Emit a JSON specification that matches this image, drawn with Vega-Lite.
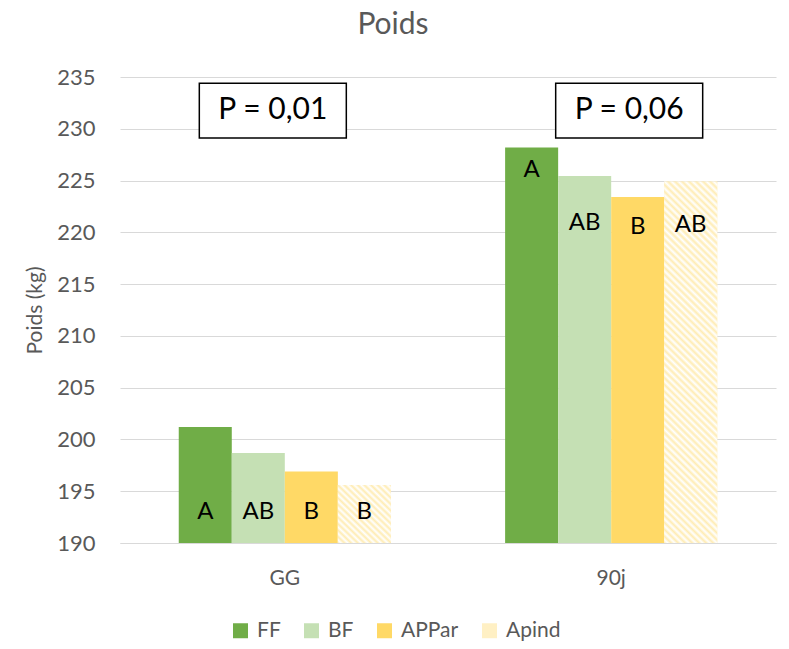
{
  "$schema": "https://vega.github.io/schema/vega-lite/v6.json",
  "width": 656,
  "height": 466,
  "autosize": {"type": "none"},
  "padding": {"left": 120, "top": 77, "right": 13, "bottom": 106},
  "background": "white",
  "title": {"text": "Poids", "font": "Lato", "fontSize": 30, "fontWeight": "normal", "color": "#595959", "anchor": "middle", "offset": 26, "dx": -55},
  "datasets": {
    "bars": [
      {"groupe": "GG", "serie": "FF", "poids": 201.2, "lettre": "A", "ylettre": 193.0},
      {"groupe": "GG", "serie": "BF", "poids": 198.7, "lettre": "AB", "ylettre": 193.0},
      {"groupe": "GG", "serie": "APPar", "poids": 196.9, "lettre": "B", "ylettre": 193.0},
      {"groupe": "GG", "serie": "Apind", "poids": 195.6, "lettre": "B", "ylettre": 193.0},
      {"groupe": "90j", "serie": "FF", "poids": 228.2, "lettre": "A", "ylettre": 226.0},
      {"groupe": "90j", "serie": "BF", "poids": 225.45, "lettre": "AB", "ylettre": 220.9},
      {"groupe": "90j", "serie": "APPar", "poids": 223.4, "lettre": "B", "ylettre": 220.5},
      {"groupe": "90j", "serie": "Apind", "poids": 224.9, "lettre": "AB", "ylettre": 220.7}
    ],
    "pvals": [
      {"groupe": "GG", "texte": "P = 0,01", "bas": 229.1, "haut": 234.4, "centre": 231.8},
      {"groupe": "90j", "texte": "P = 0,06", "bas": 229.1, "haut": 234.4, "centre": 231.8}
    ]
  },
  "layer": [
    {
      "data": {"name": "bars"},
      "mark": {"type": "bar"},
      "encoding": {
        "x": {"field": "groupe", "type": "nominal", "title": null, "sort": ["GG", "90j"], "scale": {"domain": ["GG", "90j"], "paddingInner": 0.35, "paddingOuter": 0.18}, "axis": {"labelAngle": 0}},
        "xOffset": {"field": "serie", "type": "nominal", "scale": {"domain": ["FF", "BF", "APPar", "Apind"], "paddingInner": 0, "paddingOuter": 0}},
        "y": {"field": "poids", "type": "quantitative", "title": "Poids (kg)", "scale": {"domain": [190, 235], "zero": false, "nice": false}, "axis": {"values": [190, 195, 200, 205, 210, 215, 220, 225, 230, 235], "titleFontSize": 21, "titleFontWeight": "normal", "titlePadding": 11}},
        "y2": {"datum": 190},
        "color": {"field": "serie", "type": "nominal", "title": null, "scale": {"domain": ["FF", "BF", "APPar", "Apind"], "range": ["#70AD47", "#C5E0B4", "#FFD966", "#FFF0C4"]}}
      }
    },
    {
      "data": {"name": "bars"},
      "transform": [{"filter": "datum.serie === 'Apind' && datum.groupe === 'GG'"}],
      "mark": {"type": "bar", "fill": {"gradient": "linear", "x1": 0, "y1": 1, "x2": 0.936, "y2": -0.057, "stops": [
        {"offset": 0, "color": "#ffecb3"}, {"offset": 0.0294, "color": "#ffffff"}, {"offset": 0.0588, "color": "#ffecb3"}, {"offset": 0.0882, "color": "#ffffff"},
        {"offset": 0.1176, "color": "#ffecb3"}, {"offset": 0.1471, "color": "#ffffff"}, {"offset": 0.1765, "color": "#ffecb3"}, {"offset": 0.2059, "color": "#ffffff"},
        {"offset": 0.2353, "color": "#ffecb3"}, {"offset": 0.2647, "color": "#ffffff"}, {"offset": 0.2941, "color": "#ffecb3"}, {"offset": 0.3235, "color": "#ffffff"},
        {"offset": 0.3529, "color": "#ffecb3"}, {"offset": 0.3824, "color": "#ffffff"}, {"offset": 0.4118, "color": "#ffecb3"}, {"offset": 0.4412, "color": "#ffffff"},
        {"offset": 0.4706, "color": "#ffecb3"}, {"offset": 0.5, "color": "#ffffff"}, {"offset": 0.5294, "color": "#ffecb3"}, {"offset": 0.5588, "color": "#ffffff"},
        {"offset": 0.5882, "color": "#ffecb3"}, {"offset": 0.6176, "color": "#ffffff"}, {"offset": 0.6471, "color": "#ffecb3"}, {"offset": 0.6765, "color": "#ffffff"},
        {"offset": 0.7059, "color": "#ffecb3"}, {"offset": 0.7353, "color": "#ffffff"}, {"offset": 0.7647, "color": "#ffecb3"}, {"offset": 0.7941, "color": "#ffffff"},
        {"offset": 0.8235, "color": "#ffecb3"}, {"offset": 0.8529, "color": "#ffffff"}, {"offset": 0.8824, "color": "#ffecb3"}, {"offset": 0.9118, "color": "#ffffff"},
        {"offset": 0.9412, "color": "#ffecb3"}, {"offset": 0.9706, "color": "#ffffff"}, {"offset": 1, "color": "#ffecb3"}
      ]}},
      "encoding": {
        "x": {"field": "groupe", "type": "nominal", "title": null},
        "xOffset": {"field": "serie", "type": "nominal"},
        "y": {"field": "poids", "type": "quantitative", "title": "Poids (kg)"},
        "y2": {"datum": 190}
      }
    },
    {
      "data": {"name": "bars"},
      "transform": [{"filter": "datum.serie === 'Apind' && datum.groupe === '90j'"}],
      "mark": {"type": "bar", "fill": {"gradient": "linear", "x1": 0, "y1": 1, "x2": 0.162, "y2": -0.121, "stops": [
        {"offset": 0, "color": "#ffecb3"}, {"offset": 0.0083, "color": "#ffffff"}, {"offset": 0.0167, "color": "#ffecb3"}, {"offset": 0.025, "color": "#ffffff"},
        {"offset": 0.0333, "color": "#ffecb3"}, {"offset": 0.0417, "color": "#ffffff"}, {"offset": 0.05, "color": "#ffecb3"}, {"offset": 0.0583, "color": "#ffffff"},
        {"offset": 0.0667, "color": "#ffecb3"}, {"offset": 0.075, "color": "#ffffff"}, {"offset": 0.0833, "color": "#ffecb3"}, {"offset": 0.0917, "color": "#ffffff"},
        {"offset": 0.1, "color": "#ffecb3"}, {"offset": 0.1083, "color": "#ffffff"}, {"offset": 0.1167, "color": "#ffecb3"}, {"offset": 0.125, "color": "#ffffff"},
        {"offset": 0.1333, "color": "#ffecb3"}, {"offset": 0.1417, "color": "#ffffff"}, {"offset": 0.15, "color": "#ffecb3"}, {"offset": 0.1583, "color": "#ffffff"},
        {"offset": 0.1667, "color": "#ffecb3"}, {"offset": 0.175, "color": "#ffffff"}, {"offset": 0.1833, "color": "#ffecb3"}, {"offset": 0.1917, "color": "#ffffff"},
        {"offset": 0.2, "color": "#ffecb3"}, {"offset": 0.2083, "color": "#ffffff"}, {"offset": 0.2167, "color": "#ffecb3"}, {"offset": 0.225, "color": "#ffffff"},
        {"offset": 0.2333, "color": "#ffecb3"}, {"offset": 0.2417, "color": "#ffffff"}, {"offset": 0.25, "color": "#ffecb3"}, {"offset": 0.2583, "color": "#ffffff"},
        {"offset": 0.2667, "color": "#ffecb3"}, {"offset": 0.275, "color": "#ffffff"}, {"offset": 0.2833, "color": "#ffecb3"}, {"offset": 0.2917, "color": "#ffffff"},
        {"offset": 0.3, "color": "#ffecb3"}, {"offset": 0.3083, "color": "#ffffff"}, {"offset": 0.3167, "color": "#ffecb3"}, {"offset": 0.325, "color": "#ffffff"},
        {"offset": 0.3333, "color": "#ffecb3"}, {"offset": 0.3417, "color": "#ffffff"}, {"offset": 0.35, "color": "#ffecb3"}, {"offset": 0.3583, "color": "#ffffff"},
        {"offset": 0.3667, "color": "#ffecb3"}, {"offset": 0.375, "color": "#ffffff"}, {"offset": 0.3833, "color": "#ffecb3"}, {"offset": 0.3917, "color": "#ffffff"},
        {"offset": 0.4, "color": "#ffecb3"}, {"offset": 0.4083, "color": "#ffffff"}, {"offset": 0.4167, "color": "#ffecb3"}, {"offset": 0.425, "color": "#ffffff"},
        {"offset": 0.4333, "color": "#ffecb3"}, {"offset": 0.4417, "color": "#ffffff"}, {"offset": 0.45, "color": "#ffecb3"}, {"offset": 0.4583, "color": "#ffffff"},
        {"offset": 0.4667, "color": "#ffecb3"}, {"offset": 0.475, "color": "#ffffff"}, {"offset": 0.4833, "color": "#ffecb3"}, {"offset": 0.4917, "color": "#ffffff"},
        {"offset": 0.5, "color": "#ffecb3"}, {"offset": 0.5083, "color": "#ffffff"}, {"offset": 0.5167, "color": "#ffecb3"}, {"offset": 0.525, "color": "#ffffff"},
        {"offset": 0.5333, "color": "#ffecb3"}, {"offset": 0.5417, "color": "#ffffff"}, {"offset": 0.55, "color": "#ffecb3"}, {"offset": 0.5583, "color": "#ffffff"},
        {"offset": 0.5667, "color": "#ffecb3"}, {"offset": 0.575, "color": "#ffffff"}, {"offset": 0.5833, "color": "#ffecb3"}, {"offset": 0.5917, "color": "#ffffff"},
        {"offset": 0.6, "color": "#ffecb3"}, {"offset": 0.6083, "color": "#ffffff"}, {"offset": 0.6167, "color": "#ffecb3"}, {"offset": 0.625, "color": "#ffffff"},
        {"offset": 0.6333, "color": "#ffecb3"}, {"offset": 0.6417, "color": "#ffffff"}, {"offset": 0.65, "color": "#ffecb3"}, {"offset": 0.6583, "color": "#ffffff"},
        {"offset": 0.6667, "color": "#ffecb3"}, {"offset": 0.675, "color": "#ffffff"}, {"offset": 0.6833, "color": "#ffecb3"}, {"offset": 0.6917, "color": "#ffffff"},
        {"offset": 0.7, "color": "#ffecb3"}, {"offset": 0.7083, "color": "#ffffff"}, {"offset": 0.7167, "color": "#ffecb3"}, {"offset": 0.725, "color": "#ffffff"},
        {"offset": 0.7333, "color": "#ffecb3"}, {"offset": 0.7417, "color": "#ffffff"}, {"offset": 0.75, "color": "#ffecb3"}, {"offset": 0.7583, "color": "#ffffff"},
        {"offset": 0.7667, "color": "#ffecb3"}, {"offset": 0.775, "color": "#ffffff"}, {"offset": 0.7833, "color": "#ffecb3"}, {"offset": 0.7917, "color": "#ffffff"},
        {"offset": 0.8, "color": "#ffecb3"}, {"offset": 0.8083, "color": "#ffffff"}, {"offset": 0.8167, "color": "#ffecb3"}, {"offset": 0.825, "color": "#ffffff"},
        {"offset": 0.8333, "color": "#ffecb3"}, {"offset": 0.8417, "color": "#ffffff"}, {"offset": 0.85, "color": "#ffecb3"}, {"offset": 0.8583, "color": "#ffffff"},
        {"offset": 0.8667, "color": "#ffecb3"}, {"offset": 0.875, "color": "#ffffff"}, {"offset": 0.8833, "color": "#ffecb3"}, {"offset": 0.8917, "color": "#ffffff"},
        {"offset": 0.9, "color": "#ffecb3"}, {"offset": 0.9083, "color": "#ffffff"}, {"offset": 0.9167, "color": "#ffecb3"}, {"offset": 0.925, "color": "#ffffff"},
        {"offset": 0.9333, "color": "#ffecb3"}, {"offset": 0.9417, "color": "#ffffff"}, {"offset": 0.95, "color": "#ffecb3"}, {"offset": 0.9583, "color": "#ffffff"},
        {"offset": 0.9667, "color": "#ffecb3"}, {"offset": 0.975, "color": "#ffffff"}, {"offset": 0.9833, "color": "#ffecb3"}, {"offset": 0.9917, "color": "#ffffff"},
        {"offset": 1, "color": "#ffecb3"}
      ]}},
      "encoding": {
        "x": {"field": "groupe", "type": "nominal", "title": null},
        "xOffset": {"field": "serie", "type": "nominal"},
        "y": {"field": "poids", "type": "quantitative", "title": "Poids (kg)"},
        "y2": {"datum": 190}
      }
    },
    {
      "data": {"name": "bars"},
      "mark": {"type": "text", "font": "Lato", "fontSize": 24, "color": "#000000", "align": "center", "baseline": "middle"},
      "encoding": {
        "x": {"field": "groupe", "type": "nominal", "title": null},
        "xOffset": {"field": "serie", "type": "nominal"},
        "y": {"field": "ylettre", "type": "quantitative", "title": "Poids (kg)"},
        "text": {"field": "lettre"}
      }
    },
    {
      "data": {"name": "pvals"},
      "transform": [{"filter": "datum.groupe === 'GG'"}],
      "mark": {"type": "bar", "width": 147, "xOffset": -12, "fill": "#ffffff", "stroke": "#000000", "strokeWidth": 1.5},
      "encoding": {
        "x": {"field": "groupe", "type": "nominal", "title": null},
        "y": {"field": "haut", "type": "quantitative", "title": "Poids (kg)"},
        "y2": {"field": "bas"}
      }
    },
    {
      "data": {"name": "pvals"},
      "transform": [{"filter": "datum.groupe === 'GG'"}],
      "mark": {"type": "text", "font": "Lato", "fontSize": 30, "color": "#000000", "align": "center", "baseline": "middle", "dx": -12},
      "encoding": {
        "x": {"field": "groupe", "type": "nominal", "title": null},
        "y": {"field": "centre", "type": "quantitative", "title": "Poids (kg)"},
        "text": {"field": "texte"}
      }
    },
    {
      "data": {"name": "pvals"},
      "transform": [{"filter": "datum.groupe === '90j'"}],
      "mark": {"type": "bar", "width": 147, "xOffset": 18, "fill": "#ffffff", "stroke": "#000000", "strokeWidth": 1.5},
      "encoding": {
        "x": {"field": "groupe", "type": "nominal", "title": null},
        "y": {"field": "haut", "type": "quantitative", "title": "Poids (kg)"},
        "y2": {"field": "bas"}
      }
    },
    {
      "data": {"name": "pvals"},
      "transform": [{"filter": "datum.groupe === '90j'"}],
      "mark": {"type": "text", "font": "Lato", "fontSize": 30, "color": "#000000", "align": "center", "baseline": "middle", "dx": 18},
      "encoding": {
        "x": {"field": "groupe", "type": "nominal", "title": null},
        "y": {"field": "centre", "type": "quantitative", "title": "Poids (kg)"},
        "text": {"field": "texte"}
      }
    }
  ],
  "config": {
    "font": "Lato",
    "view": {"stroke": null},
    "axis": {"labelFont": "Lato", "titleFont": "Lato", "labelColor": "#595959", "titleColor": "#595959", "ticks": false, "gridColor": "#D9D9D9", "gridWidth": 1},
    "axisY": {"domain": false, "labelFontSize": 22, "labelPadding": 25, "titleFontSize": 21, "titleFontWeight": "normal", "titlePadding": 11},
    "axisX": {"grid": false, "domain": true, "domainColor": "#D9D9D9", "domainWidth": 1, "labelFontSize": 21, "labelPadding": 24},
    "legend": {"orient": "none", "legendX": 110, "legendY": 543, "direction": "horizontal", "columns": 4, "symbolType": "square", "symbolSize": 225, "symbolStrokeWidth": 0, "labelFont": "Lato", "labelFontSize": 21, "labelColor": "#595959", "columnPadding": 20, "labelOffset": 6}
  }
}
